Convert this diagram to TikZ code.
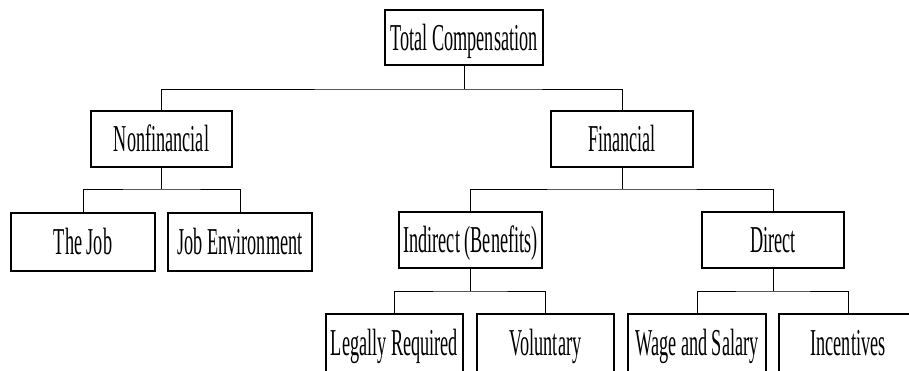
\documentclass[tikz,border=0pt]{standalone}
\usepackage{fontspec}
\setmainfont[FakeStretch=0.48]{Liberation Serif}
\begin{document}
\begin{tikzpicture}[x=1pt,y=-1pt,
  box/.style={draw=black,line width=1.4pt,rectangle,inner sep=0pt,fill=white,
    font=\fontsize{38}{40}\selectfont,text height=25pt,text depth=0pt},
  leaf/.style={box,line width=2.8pt},
  conn/.style={draw=black,line width=0.9pt}]
\useasboundingbox (0,0) rectangle (909,370);
\clip (0,0) rectangle (909,370);
% level 1
\node[box,minimum width=158pt,minimum height=55pt] (tc) at (464,37.5) {Total Compensation};
% level 2
\node[box,minimum width=141pt,minimum height=56pt] (nf) at (161.5,139) {Nonfinancial};
\node[box,minimum width=142pt,minimum height=56pt] (fin) at (622,139) {Financial};
% level 3
\node[leaf,minimum width=144pt,minimum height=58pt] (job) at (83,242) {The Job};
\node[leaf,minimum width=144pt,minimum height=58pt] (env) at (240,242) {Job Environment};
\node[box,minimum width=143pt,minimum height=56pt] (ind) at (470.5,240) {Indirect (Benefits)};
\node[box,minimum width=142pt,minimum height=56pt] (dir) at (773,240) {Direct};
% level 4
\node[leaf,minimum width=137pt,minimum height=58pt] (leg) at (394.5,343) {Legally Required};
\node[leaf,minimum width=137pt,minimum height=58pt] (vol) at (545.5,343) {Voluntary};
\node[leaf,minimum width=138pt,minimum height=58pt] (wag) at (697,343) {Wage and Salary};
\node[leaf,minimum width=138pt,minimum height=58pt] (inc) at (848,343) {Incentives};
% junctions
\coordinate (j1) at (464,89);
\coordinate (j2) at (161.5,189);
\coordinate (j3) at (622,189);
\coordinate (j4) at (470.5,291);
\coordinate (j5) at (773,291);
% connectors
\draw[conn] (tc.south) -- (j1);
\draw[conn] (nf.north) |- (j1) -| (fin.north);
\draw[conn] (nf.south) -- (j2);
\draw[conn] (job.north) |- (j2) -| (env.north);
\draw[conn] (fin.south) -- (j3);
\draw[conn] (ind.north) |- (j3) -| (dir.north);
\draw[conn] (ind.south) -- (j4);
\draw[conn] (leg.north) |- (j4) -| (vol.north);
\draw[conn] (dir.south) -- (j5);
\draw[conn] (wag.north) |- (j5) -| (inc.north);
\end{tikzpicture}
\end{document}
